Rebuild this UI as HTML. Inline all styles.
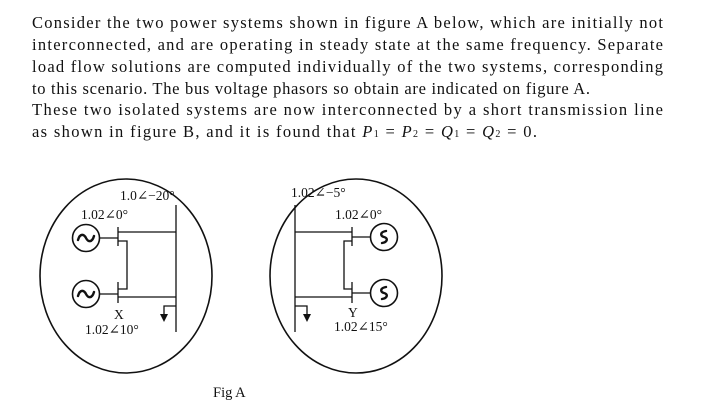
<!DOCTYPE html>
<html><head><meta charset="utf-8"><style>
html,body{margin:0;padding:0;background:#fff;}
svg{display:block;}
text{font-family:"Liberation Serif","DejaVu Serif",serif;fill:#111;}
</style></head><body>
<svg width="701" height="414" viewBox="0 0 701 414" xmlns="http://www.w3.org/2000/svg">
<g font-size="16.5">
<text x="32" y="28" textLength="631" lengthAdjust="spacing">Consider the two power systems shown in figure A below, which are initially not</text>
<text x="32" y="50" textLength="631" lengthAdjust="spacing">interconnected, and are operating in steady state at the same frequency. Separate</text>
<text x="32" y="72" textLength="631" lengthAdjust="spacing">load flow solutions are computed individually of the two systems, corresponding</text>
<text x="32" y="94" textLength="558" lengthAdjust="spacing">to this scenario. The bus voltage phasors so obtain are indicated on figure A.</text>
<text x="32" y="115" textLength="631" lengthAdjust="spacing">These two isolated systems are now interconnected by a short transmission line</text>
<text x="32" y="137" textLength="505" lengthAdjust="spacing">as shown in figure B, and it is found that <tspan font-style="italic">P</tspan><tspan font-size="10">1</tspan> = <tspan font-style="italic">P</tspan><tspan font-size="10">2</tspan> = <tspan font-style="italic">Q</tspan><tspan font-size="10">1</tspan> = <tspan font-style="italic">Q</tspan><tspan font-size="10">2</tspan> = 0.</text>
</g>
<g fill="none" stroke="#111" stroke-width="1.3">
<ellipse cx="126" cy="276" rx="86" ry="97" stroke-width="1.6"/>
<ellipse cx="356" cy="276" rx="86" ry="97" stroke-width="1.6"/>
<!-- left -->
<circle cx="86" cy="238" r="13.5" stroke-width="1.6"/>
<circle cx="86" cy="294" r="13.5" stroke-width="1.6"/>
<line x1="176" y1="205" x2="176" y2="332"/>
<line x1="118" y1="227" x2="118" y2="246"/>
<line x1="118" y1="282" x2="118" y2="303"/>
<line x1="99.5" y1="238" x2="118" y2="238"/>
<line x1="99.5" y1="294" x2="118" y2="294"/>
<line x1="118" y1="232" x2="176" y2="232"/>
<line x1="118" y1="297" x2="176" y2="297"/>
<polyline points="118,241 127,241 127,289 118,289"/>
<polyline points="176,306 164,306 164,314"/>
<!-- right -->
<circle cx="384" cy="237" r="13.5" stroke-width="1.6"/>
<circle cx="384" cy="293" r="13.5" stroke-width="1.6"/>
<line x1="295" y1="205" x2="295" y2="332"/>
<line x1="352" y1="227" x2="352" y2="246"/>
<line x1="352" y1="282" x2="352" y2="303"/>
<line x1="352" y1="237" x2="370.5" y2="237"/>
<line x1="352" y1="293" x2="370.5" y2="293"/>
<line x1="295" y1="232" x2="352" y2="232"/>
<line x1="295" y1="297" x2="352" y2="297"/>
<polyline points="352,241 344,241 344,289 352,289"/>
<polyline points="295,306 307,306 307,314"/>
</g>
<g fill="none" stroke="#111" stroke-width="2.4" stroke-linecap="round">
<path d="M78,240 C80,233 84,234 86,238 C88,242 92,243 94,236"/>
<path d="M78,296 C80,289 84,290 86,294 C88,298 92,299 94,292"/>
<path d="M386,231 C380,232 380,236 384,237 C388,238 388,242 382,243"/>
<path d="M386,287 C380,288 380,292 384,293 C388,294 388,298 382,299"/>
</g>
<polygon points="160,314 168,314 164,322" fill="#111"/>
<polygon points="303,314 311,314 307,322" fill="#111"/>
<g font-size="13.5">
<text x="120" y="200">1.0∠−20°</text>
<text x="81" y="219">1.02∠0°</text>
<text x="114" y="319">X</text>
<text x="85" y="334">1.02∠10°</text>
<text x="291" y="197">1.02∠−5°</text>
<text x="335" y="219">1.02∠0°</text>
<text x="348" y="317">Y</text>
<text x="334" y="331">1.02∠15°</text>
<text x="213" y="397" font-size="14.5">Fig A</text>
</g>
</svg>
</body></html>
